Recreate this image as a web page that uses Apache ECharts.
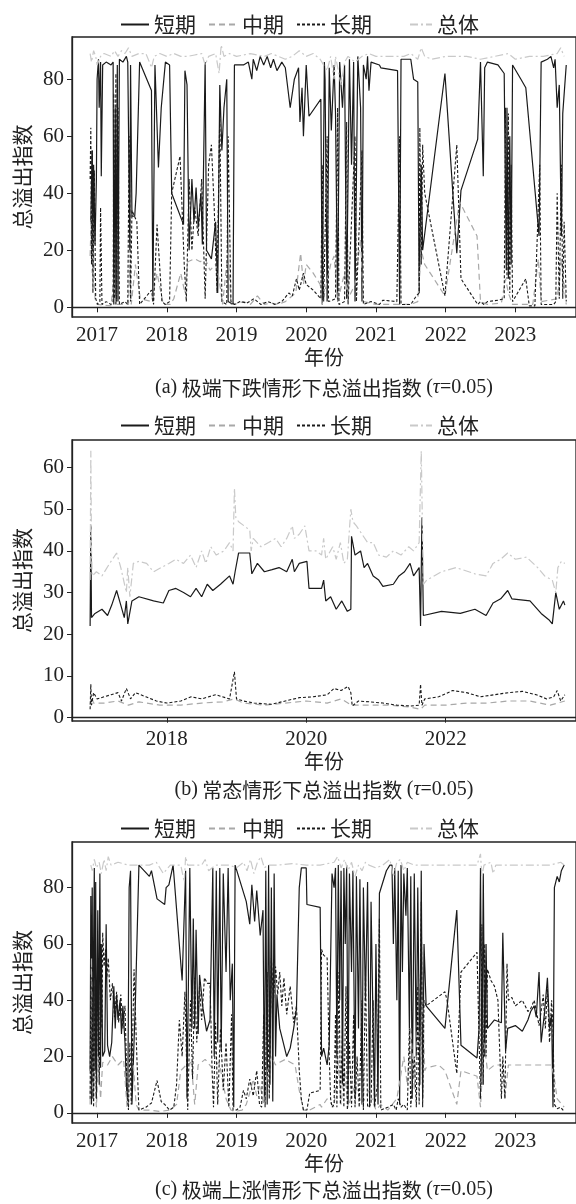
<!DOCTYPE html>
<html>
<head>
<meta charset="utf-8">
<title>总溢出指数</title>
<script src="https://cdn.jsdelivr.net/npm/echarts@6/dist/echarts.min.js"></script>
<style>
html, body { margin: 0; padding: 0; background: #fff; }
#chart { width: 576px; height: 1204px; }
</style>
</head>
<body>
<div id="chart"></div>
<script>
// 图例名称
var names = ['短期', '中期', '长期', '总体'];
var yearTicksA = [2017, 2018, 2019, 2020, 2021, 2022, 2023];
var yearTicksB = [2018, 2020, 2022];
var yTicksA = [0, 20, 40, 60, 80];
var yTicksB = [0, 10, 20, 30, 40, 50, 60];
var captions = [
    '(a) 极端下跌情形下总溢出指数 ',
    '(b) 常态情形下总溢出指数 ',
    '(c) 极端上涨情形下总溢出指数 '
];

// (a) 极端下跌 [年份, 指数]
var aShort = [[2016.91,30],[2016.93,55],[2016.94,20],[2016.95,50],[2016.97,22],[2016.99,45],[2017.00,80],[2017.02,87],[2017.03,70],[2017.05,86],[2017.06,46],[2017.08,85],[2017.13,86],[2017.20,85],[2017.23,86],[2017.24,1],[2017.26,70],[2017.27,1],[2017.29,85],[2017.30,2],[2017.32,87],[2017.37,86],[2017.42,88],[2017.44,86],[2017.47,20],[2017.48,85],[2017.50,32],[2017.54,32],[2017.56,40],[2017.61,86],[2017.78,76],[2017.80,2],[2017.83,85],[2017.88,49],[2017.92,70],[2017.98,86],[2018.04,85],[2018.07,40],[2018.24,29],[2018.26,83],[2018.29,78],[2018.32,20],[2018.36,45],[2018.39,30],[2018.42,42],[2018.45,28],[2018.49,40],[2018.51,22],[2018.55,86],[2018.57,20],[2018.64,17],[2018.70,30],[2018.73,5],[2018.76,78],[2018.79,55],[2018.82,70],[2018.86,80],[2018.88,2],[2018.95,1],[2018.97,85],[2019.10,85],[2019.17,86],[2019.22,80],[2019.24,87],[2019.29,83],[2019.34,88],[2019.39,85],[2019.44,88],[2019.49,84],[2019.53,87],[2019.58,83],[2019.65,86],[2019.70,84],[2019.77,70],[2019.83,80],[2019.89,84],[2019.91,65],[2019.94,77],[2019.96,60],[2020.00,85],[2020.04,67],[2020.21,73],[2020.23,1],[2020.26,86],[2020.27,80],[2020.30,2],[2020.33,84],[2020.36,62],[2020.40,85],[2020.42,68],[2020.45,2],[2020.48,86],[2020.52,70],[2020.55,85],[2020.58,3],[2020.62,87],[2020.65,50],[2020.68,86],[2020.70,2],[2020.74,88],[2020.78,70],[2020.80,2],[2020.82,85],[2020.86,80],[2020.88,88],[2020.90,76],[2020.93,86],[2021.05,85],[2021.07,84],[2021.31,83],[2021.34,1],[2021.36,87],[2021.50,87],[2021.54,80],[2021.60,79],[2021.62,5],[2021.65,50],[2021.67,20],[2021.69,20],[2021.99,82],[2022.16,19],[2022.22,41],[2022.46,59],[2022.50,86],[2022.54,46],[2022.56,84],[2022.60,86],[2022.75,85],[2022.84,82],[2022.87,13],[2022.88,70],[2022.90,10],[2022.92,60],[2022.94,15],[2022.96,85],[2023.08,80],[2023.15,77],[2023.34,25],[2023.37,86],[2023.46,87],[2023.51,88],[2023.55,84],[2023.57,87],[2023.60,70],[2023.63,78],[2023.66,25],[2023.68,68],[2023.73,85]];
var aMid = [[2016.90,18],[2016.92,35],[2016.93,12],[2016.95,20],[2016.97,3],[2017.00,1],[2017.20,0.5],[2017.24,10],[2017.26,1],[2017.45,1],[2017.47,15],[2017.49,1],[2017.55,15],[2017.62,3],[2017.78,2],[2017.86,12],[2017.95,1],[2018.05,1],[2018.10,3],[2018.20,12],[2018.26,5],[2018.30,16],[2018.40,17],[2018.48,16],[2018.55,17],[2018.62,13],[2018.70,15],[2018.75,10],[2018.80,1],[2018.88,20],[2018.92,1],[2018.97,1],[2019.10,2],[2019.20,1],[2019.30,4],[2019.40,1],[2019.50,1.5],[2019.60,1],[2019.70,2],[2019.85,5],[2019.92,19],[2019.96,8],[2020.00,15],[2020.10,12],[2020.20,8],[2020.23,1],[2020.35,15],[2020.40,18],[2020.45,2],[2020.55,12],[2020.60,3],[2020.70,8],[2020.78,24],[2020.82,2],[2021.00,1],[2021.30,1],[2021.50,1],[2021.60,2],[2021.65,20],[2021.70,15],[2021.99,4],[2022.20,37],[2022.45,25],[2022.50,2],[2022.60,1],[2022.80,1.5],[2022.86,10],[2022.90,5],[2022.96,1],[2023.10,1],[2023.25,1],[2023.33,17],[2023.37,2],[2023.60,3],[2023.66,17],[2023.73,1]];
var aLong = [[2016.90,45],[2016.91,63],[2016.92,15],[2016.93,55],[2016.94,5],[2016.96,48],[2016.98,3],[2017.01,1],[2017.04,2],[2017.05,35],[2017.07,1],[2017.13,2],[2017.20,1],[2017.23,2],[2017.24,75],[2017.25,3],[2017.27,82],[2017.28,2],[2017.30,70],[2017.32,1],[2017.40,2],[2017.44,1],[2017.46,60],[2017.48,2],[2017.50,34],[2017.57,30],[2017.61,1],[2017.78,6],[2017.81,1],[2017.86,29],[2017.93,2],[2017.98,1],[2018.04,2],[2018.07,40],[2018.19,53],[2018.25,15],[2018.28,2],[2018.32,45],[2018.36,20],[2018.40,35],[2018.45,25],[2018.50,45],[2018.55,3],[2018.60,50],[2018.64,57],[2018.68,35],[2018.72,5],[2018.76,68],[2018.79,2],[2018.86,1],[2018.88,60],[2018.92,2],[2018.97,1],[2019.05,2],[2019.15,1.5],[2019.25,3],[2019.35,1],[2019.45,2],[2019.55,1],[2019.65,2],[2019.75,5],[2019.80,4],[2019.86,10],[2019.90,6],[2019.96,12],[2020.00,8],[2020.10,6],[2020.21,3],[2020.23,50],[2020.25,2],[2020.30,60],[2020.32,2],[2020.42,3],[2020.45,70],[2020.47,1],[2020.55,2],[2020.58,65],[2020.60,1],[2020.70,60],[2020.72,2],[2020.80,55],[2020.82,1],[2020.93,2],[2021.05,1],[2021.10,2.5],[2021.30,2],[2021.34,60],[2021.36,1],[2021.50,1],[2021.58,4],[2021.62,5],[2021.63,63],[2021.65,15],[2021.67,57],[2021.70,40],[2021.99,4],[2022.16,57],[2022.22,10],[2022.46,1],[2022.50,2],[2022.55,1],[2022.60,2],[2022.75,2.5],[2022.84,3],[2022.86,70],[2022.88,10],[2022.90,68],[2022.92,5],[2022.94,50],[2022.96,2],[2023.15,10],[2023.20,0.5],[2023.28,0.5],[2023.35,50],[2023.37,1],[2023.55,1],[2023.58,2],[2023.60,40],[2023.63,3],[2023.66,50],[2023.68,3],[2023.70,30],[2023.73,2]];
var aTotal = [[2016.90,89],[2016.92,86],[2016.95,90],[2016.98,88],[2017.00,85],[2017.05,88],[2017.10,89],[2017.20,88],[2017.25,90],[2017.30,88],[2017.35,90],[2017.40,89],[2017.45,91],[2017.50,88],[2017.60,89],[2017.70,89],[2017.75,86],[2017.78,84],[2017.82,88],[2017.90,89],[2018.00,88],[2018.10,89],[2018.20,88],[2018.30,88],[2018.40,88.5],[2018.50,89],[2018.55,85],[2018.60,88],[2018.70,89],[2018.75,82],[2018.78,92],[2018.82,88],[2018.90,89],[2019.00,88],[2019.20,89],[2019.40,88],[2019.50,89],[2019.60,88],[2019.70,87],[2019.80,88],[2019.90,90],[2020.00,88],[2020.10,89],[2020.20,87],[2020.30,83],[2020.35,88],[2020.40,80],[2020.42,88],[2020.50,78],[2020.55,86],[2020.60,88],[2020.70,86],[2020.80,88],[2020.90,89],[2021.00,88],[2021.20,88],[2021.40,88],[2021.50,89],[2021.60,87],[2021.65,91],[2021.70,88],[2021.80,87],[2022.00,88],[2022.30,88],[2022.50,87],[2022.70,88],[2022.90,89],[2023.00,87],[2023.20,88],[2023.40,88],[2023.60,89],[2023.65,91],[2023.70,88]];

// (b) 常态
var bShort = [[2016.90,22],[2016.91,46],[2016.92,24],[2016.97,25],[2017.07,26],[2017.15,24.5],[2017.21,27],[2017.28,30.5],[2017.34,27],[2017.39,24],[2017.42,28],[2017.44,22.5],[2017.50,28],[2017.60,29],[2017.81,28],[2017.95,27.5],[2018.03,30.5],[2018.13,31],[2018.24,30],[2018.34,29],[2018.42,31],[2018.50,29],[2018.58,32],[2018.66,30.5],[2018.77,32],[2018.90,34],[2018.95,32],[2018.98,35],[2019.03,39.5],[2019.19,39.5],[2019.22,34.5],[2019.30,37],[2019.40,35],[2019.51,35.5],[2019.61,36],[2019.72,35],[2019.80,38],[2019.83,35],[2019.90,37],[2020.01,37.5],[2020.04,31],[2020.22,31],[2020.25,33],[2020.28,28],[2020.35,29],[2020.43,26],[2020.51,28],[2020.59,25.5],[2020.64,26],[2020.65,43.5],[2020.70,39],[2020.78,40],[2020.83,36],[2020.88,37],[2020.96,34],[2021.04,33],[2021.10,31.5],[2021.25,32],[2021.33,34],[2021.41,35],[2021.49,37],[2021.54,34],[2021.62,36],[2021.64,22],[2021.66,48],[2021.68,24.5],[2021.94,25.5],[2022.21,25],[2022.42,26],[2022.58,24.5],[2022.68,27.5],[2022.79,28.5],[2022.89,30.5],[2022.95,28.5],[2023.21,28],[2023.37,25],[2023.48,23.5],[2023.53,22.5],[2023.58,30],[2023.63,26],[2023.69,28],[2023.71,27]];
var bMid = [[2016.90,3],[2016.92,5],[2016.95,3.5],[2017.10,3.5],[2017.30,4],[2017.45,3],[2017.60,3.8],[2017.90,3],[2018.20,3],[2018.50,3.5],[2018.80,3.8],[2018.97,4.5],[2019.10,3.5],[2019.40,3],[2019.70,3.5],[2020.00,4],[2020.30,3.5],[2020.50,4.5],[2020.65,3],[2020.90,3],[2021.20,3],[2021.50,2.5],[2021.64,2],[2021.70,3],[2022.00,3],[2022.30,3.5],[2022.60,3.5],[2022.90,4],[2023.20,4],[2023.50,3],[2023.71,4]];
var bLong = [[2016.90,2],[2016.91,8],[2016.92,3],[2016.95,6],[2017.00,4.5],[2017.10,5],[2017.20,5.5],[2017.30,6],[2017.35,4],[2017.42,7],[2017.48,4.5],[2017.55,6],[2017.70,5],[2017.85,4],[2018.00,3.5],[2018.20,4],[2018.35,5],[2018.50,4.5],[2018.70,5.5],[2018.90,4.5],[2018.97,11],[2019.00,4.5],[2019.10,4],[2019.25,3.5],[2019.50,3.2],[2019.70,4],[2019.90,4.8],[2020.10,5],[2020.30,5.5],[2020.40,7],[2020.50,6.5],[2020.60,7.5],[2020.64,6],[2020.66,2.8],[2020.75,4],[2020.90,3.8],[2021.10,3.5],[2021.30,3],[2021.50,2.8],[2021.62,3],[2021.64,8],[2021.66,3],[2021.70,4.5],[2021.90,5],[2022.10,6.5],[2022.30,6],[2022.50,5],[2022.70,5.5],[2022.90,6],[2023.10,6.3],[2023.30,5.5],[2023.45,4.5],[2023.55,5],[2023.60,6.5],[2023.65,4],[2023.71,5.5]];
var bTotal = [[2016.90,33],[2016.91,64],[2016.92,40],[2016.93,34],[2016.99,35],[2017.07,34],[2017.18,37],[2017.28,39.5],[2017.34,36],[2017.42,30],[2017.44,36],[2017.47,29],[2017.52,37],[2017.60,37.5],[2017.71,37],[2017.81,35],[2017.92,36],[2018.03,37],[2018.13,38],[2018.24,37],[2018.34,39],[2018.42,36],[2018.50,40],[2018.56,37],[2018.63,41],[2018.71,39],[2018.82,40],[2018.90,42],[2018.95,40],[2018.97,55],[2018.99,48],[2019.03,47],[2019.11,46],[2019.19,45],[2019.21,40],[2019.24,43],[2019.35,41],[2019.46,42],[2019.56,43],[2019.64,41],[2019.72,43],[2019.80,46],[2019.83,43],[2019.90,44],[2019.98,46],[2020.04,40],[2020.14,40],[2020.22,39],[2020.25,43],[2020.28,38],[2020.38,41],[2020.43,38],[2020.49,42],[2020.54,37],[2020.59,38],[2020.64,50],[2020.67,47],[2020.72,46],[2020.80,44],[2020.88,42],[2020.96,42],[2021.04,39],[2021.15,38.5],[2021.25,40],[2021.36,39],[2021.47,41],[2021.54,40],[2021.62,42],[2021.65,64],[2021.68,32],[2021.73,33],[2021.94,35],[2022.15,36],[2022.42,34.5],[2022.58,34],[2022.68,37],[2022.79,38],[2022.89,39.5],[2023.00,38],[2023.16,38.5],[2023.32,36],[2023.42,34],[2023.53,33],[2023.58,30],[2023.61,36],[2023.66,37.5],[2023.71,37]];

// (c) 极端上涨
var cShort = [[2016.90,15],[2016.91,77],[2016.92,10],[2016.93,80],[2016.94,5],[2016.95,60],[2016.96,87],[2016.97,15],[2016.98,82],[2016.99,8],[2017.01,72],[2017.02,20],[2017.04,85],[2017.05,16],[2017.06,60],[2017.08,20],[2017.11,22],[2017.13,67],[2017.15,24],[2017.18,20],[2017.21,25],[2017.24,45],[2017.26,30],[2017.28,42],[2017.30,33],[2017.33,40],[2017.35,28],[2017.37,38],[2017.40,25],[2017.42,10],[2017.44,3],[2017.46,80],[2017.48,86],[2017.50,3],[2017.55,40],[2017.60,88],[2017.75,84],[2017.78,86],[2017.86,76],[2017.97,74],[2017.99,80],[2018.03,81],[2018.09,88],[2018.10,85],[2018.22,47],[2018.27,86],[2018.29,5],[2018.33,87],[2018.36,30],[2018.38,69],[2018.40,30],[2018.42,65],[2018.45,28],[2018.47,49],[2018.52,37],[2018.57,29],[2018.62,33],[2018.66,87],[2018.68,20],[2018.71,86],[2018.73,25],[2018.76,87],[2018.78,22],[2018.81,85],[2018.85,50],[2018.88,87],[2018.91,40],[2018.94,53],[2018.96,2],[2018.98,88],[2019.14,75],[2019.19,67],[2019.22,81],[2019.26,68],[2019.29,79],[2019.34,63],[2019.38,72],[2019.40,5],[2019.42,86],[2019.44,3],[2019.46,88],[2019.48,10],[2019.50,80],[2019.52,4],[2019.54,85],[2019.56,20],[2019.58,42],[2019.62,30],[2019.67,25],[2019.72,20],[2019.77,23],[2019.82,30],[2019.86,37],[2019.90,80],[2019.93,87],[2020.00,87],[2020.01,74],[2020.20,73],[2020.22,20],[2020.25,23],[2020.30,17],[2020.33,24],[2020.37,85],[2020.40,80],[2020.42,87],[2020.44,20],[2020.46,88],[2020.48,40],[2020.50,86],[2020.52,10],[2020.54,87],[2020.56,60],[2020.58,88],[2020.60,3],[2020.62,85],[2020.65,50],[2020.67,86],[2020.70,5],[2020.72,84],[2020.75,30],[2020.77,83],[2020.80,3],[2020.82,80],[2020.85,40],[2020.88,82],[2020.91,2],[2020.93,75],[2020.96,30],[2020.98,2],[2021.00,60],[2021.03,3],[2021.05,78],[2021.10,82],[2021.15,86],[2021.20,88],[2021.23,88],[2021.25,60],[2021.27,87],[2021.30,40],[2021.32,86],[2021.34,3],[2021.36,88],[2021.38,50],[2021.40,85],[2021.43,70],[2021.45,87],[2021.48,30],[2021.50,84],[2021.52,5],[2021.55,85],[2021.58,20],[2021.60,80],[2021.63,10],[2021.65,86],[2021.67,5],[2021.69,60],[2021.72,38],[2021.99,30],[2022.16,72],[2022.22,24],[2022.45,19.5],[2022.48,30],[2022.50,87],[2022.52,10],[2022.54,85],[2022.56,20],[2022.58,60],[2022.60,30],[2022.70,33],[2022.80,32],[2022.82,64],[2022.84,64],[2022.86,22],[2022.89,30],[2023.00,31],[2023.10,29],[2023.18,33],[2023.22,36],[2023.27,38],[2023.30,34],[2023.34,50],[2023.37,25],[2023.42,36],[2023.46,48],[2023.49,30],[2023.52,35],[2023.54,2],[2023.56,80],[2023.60,84],[2023.63,82],[2023.66,86],[2023.70,88]];
var cMid = [[2016.90,3],[2016.92,55],[2016.93,8],[2016.96,15],[2016.99,2],[2017.02,20],[2017.05,5],[2017.08,18],[2017.15,17],[2017.22,20],[2017.30,17],[2017.38,19],[2017.43,2],[2017.47,15],[2017.52,17],[2017.56,3],[2017.60,1],[2017.75,1],[2017.90,0.5],[2018.05,1],[2018.14,3],[2018.20,15],[2018.28,17],[2018.35,18],[2018.40,3],[2018.45,17],[2018.55,19],[2018.65,16],[2018.75,18],[2018.85,5],[2018.92,1],[2018.98,0.5],[2019.08,1],[2019.14,3],[2019.20,8],[2019.24,12],[2019.29,6],[2019.34,10],[2019.39,3],[2019.45,15],[2019.50,20],[2019.56,17],[2019.62,18],[2019.70,19],[2019.77,18],[2019.84,17],[2019.90,8],[2019.96,1],[2020.05,1],[2020.20,3],[2020.22,2],[2020.30,5],[2020.40,2],[2020.45,20],[2020.50,3],[2020.55,15],[2020.60,2],[2020.70,10],[2020.80,3],[2020.90,8],[2021.00,1],[2021.07,3],[2021.17,1],[2021.30,5],[2021.40,20],[2021.45,10],[2021.50,30],[2021.55,8],[2021.60,35],[2021.64,20],[2021.67,40],[2021.70,15],[2021.72,16],[2021.90,17],[2021.99,15],[2022.16,3],[2022.22,15],[2022.45,13],[2022.50,2],[2022.55,25],[2022.60,15],[2022.70,17],[2022.82,17],[2022.85,5],[2022.90,17],[2023.10,17],[2023.30,17],[2023.46,17],[2023.52,17],[2023.56,12],[2023.60,5],[2023.70,2]];
var cLong = [[2016.90,5],[2016.91,48],[2016.92,3],[2016.94,40],[2016.95,2],[2016.97,45],[2016.99,5],[2017.01,55],[2017.03,10],[2017.05,50],[2017.07,30],[2017.08,64],[2017.10,52],[2017.12,58],[2017.14,48],[2017.16,55],[2017.19,40],[2017.22,46],[2017.25,34],[2017.28,43],[2017.31,32],[2017.34,42],[2017.37,30],[2017.40,38],[2017.43,8],[2017.45,1],[2017.47,25],[2017.49,3],[2017.53,51],[2017.57,20],[2017.60,1],[2017.70,2],[2017.78,3.5],[2017.86,11.5],[2017.92,4],[2017.97,3],[2018.04,1],[2018.10,2],[2018.14,10],[2018.18,33],[2018.22,20],[2018.26,43],[2018.30,1],[2018.34,40],[2018.37,12],[2018.40,48],[2018.43,25],[2018.47,45],[2018.50,33],[2018.54,48],[2018.58,46],[2018.62,46],[2018.65,15],[2018.67,2],[2018.70,32],[2018.73,3],[2018.77,30],[2018.81,8],[2018.85,25],[2018.89,2],[2018.93,35],[2018.95,1],[2019.00,1],[2019.05,2],[2019.10,8],[2019.14,5],[2019.19,12],[2019.24,6],[2019.29,15],[2019.33,3],[2019.36,2],[2019.39,35],[2019.41,2],[2019.44,50],[2019.47,5],[2019.50,55],[2019.53,40],[2019.56,52],[2019.59,42],[2019.62,50],[2019.65,38],[2019.68,48],[2019.72,35],[2019.77,45],[2019.82,32],[2019.86,38],[2019.90,15],[2019.93,5],[2019.96,1],[2020.01,1],[2020.05,7],[2020.20,8],[2020.22,58],[2020.25,56],[2020.30,55],[2020.33,20],[2020.35,5],[2020.37,2],[2020.40,3],[2020.42,35],[2020.44,2],[2020.47,50],[2020.49,3],[2020.52,30],[2020.54,2],[2020.57,45],[2020.59,1],[2020.62,25],[2020.65,2],[2020.68,35],[2020.70,2],[2020.73,20],[2020.76,2],[2020.80,40],[2020.82,1],[2020.85,50],[2020.88,2],[2020.93,3],[2020.96,40],[2020.98,2],[2021.02,10],[2021.05,69],[2021.07,1],[2021.17,2],[2021.25,3],[2021.29,1],[2021.32,5],[2021.36,2],[2021.40,3],[2021.45,1],[2021.48,30],[2021.50,2],[2021.55,20],[2021.58,2],[2021.60,45],[2021.62,3],[2021.65,75],[2021.67,2],[2021.69,40],[2021.72,38],[2021.99,43],[2022.02,40],[2022.16,14],[2022.22,50],[2022.45,57],[2022.50,5],[2022.52,67],[2022.54,10],[2022.56,60],[2022.58,20],[2022.60,51],[2022.65,47],[2022.70,45],[2022.75,40],[2022.80,5],[2022.82,20],[2022.85,5],[2022.88,53],[2022.90,40],[2022.95,41],[2023.00,38],[2023.10,40],[2023.18,36],[2023.22,37],[2023.27,40],[2023.31,35],[2023.34,31],[2023.37,36],[2023.40,42],[2023.43,30],[2023.46,44],[2023.49,25],[2023.52,40],[2023.54,30],[2023.56,3],[2023.60,1.5],[2023.65,2],[2023.70,0.5]];
var cTotal = [[2016.91,88],[2016.93,86],[2016.96,90],[2016.99,87],[2017.03,89],[2017.06,85],[2017.10,90],[2017.13,86],[2017.16,91],[2017.20,88],[2017.30,89],[2017.45,88],[2017.60,88],[2017.75,88],[2017.85,89],[2017.95,85],[2018.05,88],[2018.20,88],[2018.25,82],[2018.27,91],[2018.30,88],[2018.50,88],[2018.55,90],[2018.60,86],[2018.70,88],[2018.90,88],[2019.00,87],[2019.10,89],[2019.15,86],[2019.20,90],[2019.25,85],[2019.30,89],[2019.35,91],[2019.40,87],[2019.45,88],[2019.60,88],[2019.80,88.5],[2020.00,88],[2020.20,88],[2020.40,89],[2020.45,91],[2020.50,87],[2020.55,90],[2020.60,86],[2020.65,89],[2020.70,84],[2020.75,88],[2020.80,86],[2020.85,89],[2020.90,88],[2021.00,87],[2021.10,88],[2021.20,90],[2021.25,84],[2021.30,89],[2021.35,90],[2021.40,86],[2021.45,89],[2021.55,88],[2021.65,88],[2021.90,88],[2022.20,88],[2022.45,88],[2022.50,92],[2022.52,84],[2022.55,88],[2022.65,89],[2022.68,85],[2022.72,88],[2022.90,88],[2023.20,88],[2023.50,88],[2023.65,89],[2023.70,88]];

var panelData = [
    [aShort, aMid, aLong, aTotal],
    [bShort, bMid, bLong, bTotal],
    [cShort, cMid, cLong, cTotal]
];

var serif = '"Liberation Serif", "DejaVu Serif", serif';
var cjk = '"Noto Sans CJK SC", sans-serif';
var ink = '#222';

// 每个子图的位置 (top, height, y轴范围, 图例位置, 标题位置)
var panels = [
    { top: 37, height: 280, ymin: -3.4, ymax: 94.8, yTicks: yTicksA, xTicks: yearTicksA, legendTop: 9, caption: 388 },
    { top: 440, height: 281, ymin: -0.8, ymax: 66.6, yTicks: yTicksB, xTicks: yearTicksB, legendTop: 410, caption: 790 },
    { top: 842, height: 281, ymin: -3.6, ymax: 96.2, yTicks: yTicksA, xTicks: yearTicksA, legendTop: 813, caption: 1190 }
];

var lineStyles = [
    { color: '#1a1a1a', width: 1.2, type: 'solid' },
    { color: '#a8a8a8', width: 1.2, type: [6, 4] },
    { color: '#1a1a1a', width: 1.1, type: [3, 2] },
    { color: '#c9c9c9', width: 1.2, type: [8, 3, 2, 3] }
];

var grids = [], xAxes = [], yAxes = [], series = [], legends = [], graphics = [];

panels.forEach(function (p, k) {
    grids.push({
        left: 72, right: -3, top: p.top, height: p.height,
        show: true, borderColor: ink, borderWidth: 1.3, backgroundColor: 'transparent'
    });
    xAxes.push({
        type: 'value', gridIndex: k, min: 2016.64, max: 2023.87,
        name: '年份', nameLocation: 'middle', nameGap: 30,
        nameTextStyle: { fontFamily: cjk, fontSize: 20, color: ink },
        axisLine: { show: true, lineStyle: { color: ink, width: 1.3 } },
        axisTick: { show: true, length: 5, customValues: p.xTicks, lineStyle: { color: ink } },
        axisLabel: {
            customValues: p.xTicks, margin: 8, fontFamily: serif, fontSize: 21, color: ink,
            formatter: function (v) { return String(v); }
        },
        splitLine: { show: false }
    });
    yAxes.push({
        type: 'value', gridIndex: k, min: p.ymin, max: p.ymax,
        name: '总溢出指数', nameLocation: 'middle', nameGap: 32,
        nameTextStyle: { fontFamily: cjk, fontSize: 21, color: ink },
        axisLine: { show: true, lineStyle: { color: ink, width: 1.3 } },
        axisTick: { show: true, length: 5, customValues: p.yTicks, lineStyle: { color: ink } },
        axisLabel: { customValues: p.yTicks, margin: 8, fontFamily: serif, fontSize: 21, color: ink },
        splitLine: { show: false }
    });
    panelData[k].forEach(function (d, s) {
        series.push({
            name: names[s], type: 'line', xAxisIndex: k, yAxisIndex: k,
            data: d, symbol: 'none', showSymbol: false, smooth: false,
            lineStyle: lineStyles[s], itemStyle: { color: lineStyles[s].color },
            emphasis: { disabled: true }, animation: false
        });
    });
    // 图例：前三项一组，"总体"单独靠右；图标只画线，不画圆点
    legends.push({
        data: names.slice(0, 3), left: 115, top: p.legendTop, itemWidth: 28, itemHeight: 14, itemGap: 12,
        itemStyle: { opacity: 0 },
        textStyle: { fontFamily: cjk, fontSize: 21, color: ink }, selectedMode: false
    });
    legends.push({
        data: [names[3]], left: 404, top: p.legendTop, itemWidth: 22, itemHeight: 14,
        itemStyle: { opacity: 0 },
        textStyle: { fontFamily: cjk, fontSize: 21, color: ink }, selectedMode: false
    });
    graphics.push({
        type: 'text', x: 324, y: p.caption,
        style: {
            text: '{s|' + captions[k].slice(0, 3) + '}' + captions[k].slice(3) + '{s|(}{i|τ}{s|=0.05)}',
            align: 'center', verticalAlign: 'middle', fill: ink,
            fontFamily: cjk, fontSize: 20,
            rich: {
                s: { fontFamily: serif, fontSize: 20, fill: ink },
                i: { fontFamily: serif, fontSize: 20, fontStyle: 'italic', fill: ink }
            }
        }
    });
});

var chart = echarts.init(document.getElementById('chart'), null, { renderer: 'canvas' });
chart.setOption({
    backgroundColor: '#fff',
    animation: false,
    grid: grids,
    xAxis: xAxes,
    yAxis: yAxes,
    legend: legends,
    graphic: graphics,
    series: series
});
</script>
</body>
</html>
